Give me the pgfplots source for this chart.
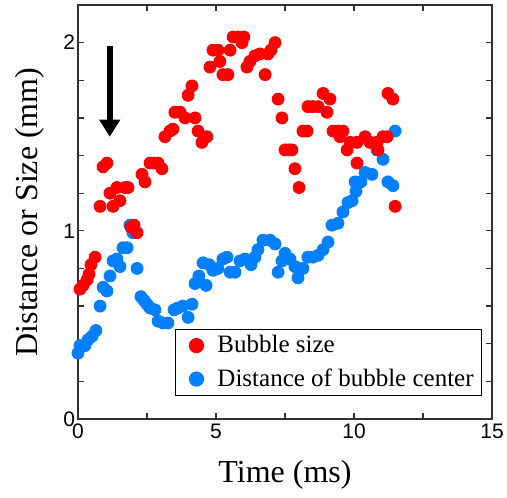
\documentclass[border=0pt]{standalone}
\usepackage{pgfplots}
\pgfplotsset{compat=1.18}
\usetikzlibrary{arrows.meta}
\usepackage{fontspec}
\setmainfont{Liberation Serif}
\newfontfamily\arial{Liberation Sans}
\definecolor{bred}{RGB}{255,0,0}
\definecolor{bblue}{RGB}{0,128,255}
\begin{document}
\begin{tikzpicture}
\useasboundingbox (-39pt,-39pt) rectangle (214.5pt,209.5pt);
\begin{axis}[
  at={(0,0)}, anchor=south west,
  scale only axis, width=207pt, height=207pt,
  xmin=0, xmax=15, ymin=0, ymax=2.2,
  xtick={0,5,10,15}, ytick={0,1,2},
  minor x tick num=1, minor y tick num=4,
  tick align=inside, major tick length=3pt, minor tick length=3pt,
  axis line style={line width=0.7pt, black!80},
  every tick/.style={line width=0.6pt, black!80},
  /pgf/number format/assume math mode=true,
  tick label style={font=\arial\fontsize{10.5}{12}\selectfont},
  xticklabel style={yshift=1pt},
  yticklabel style={xshift=2pt},
  xlabel={Time (ms)}, ylabel={Distance or Size (mm)},
  label style={font=\fontsize{16}{18}\selectfont},
  xlabel style={at={(axis description cs:0.5,-0.135)}, anchor=center},
  ylabel style={at={(axis description cs:-0.116,0.5)}, anchor=center},
  legend style={at={(0.234,0.0556)}, anchor=south west, draw=black,
    line width=0.6pt, font=\fontsize{12.5}{15}\selectfont,
    inner xsep=2pt, inner ysep=1pt, row sep=2.5pt},
  legend image code/.code={
    \path (0pt,0pt) (17pt,0pt);
    \draw[mark repeat=2, mark phase=2, #1, mark size=3.5pt]
      plot coordinates {(0pt,0pt)(8.5pt,0pt)(17pt,0pt)};},
  legend cell align=left, reverse legend,
  clip=false,
]
% distance of bubble center
\addplot[only marks, mark=*, mark size=3pt, draw=none, color=bblue, mark options={draw=none, fill=bblue}]
coordinates {
(0.00,0.35)(0.07,0.39)(0.25,0.39)(0.36,0.42)(0.51,0.44)(0.65,0.47)
(0.80,0.60)(0.91,0.70)(1.05,0.68)(1.16,0.76)(1.27,0.84)(1.41,0.85)
(1.52,0.81)(1.63,0.91)(1.78,0.91)(1.88,1.03)(1.99,0.99)(2.14,0.80)
(2.28,0.65)(2.39,0.63)(2.50,0.61)(2.61,0.59)(2.79,0.58)(2.90,0.52)
(3.08,0.51)(3.26,0.51)(3.48,0.58)(3.62,0.59)(3.80,0.60)(3.99,0.54)
(4.13,0.61)(4.24,0.72)(4.38,0.76)(4.53,0.83)(4.64,0.71)(4.75,0.82)
(4.89,0.79)(5.07,0.80)(5.25,0.85)(5.40,0.86)(5.51,0.78)(5.69,0.78)
(5.87,0.84)(6.05,0.85)(6.27,0.82)(6.41,0.86)(6.52,0.90)(6.70,0.95)
(6.96,0.95)(7.14,0.93)(7.25,0.78)(7.39,0.84)(7.50,0.88)(7.68,0.85)
(7.86,0.81)(7.97,0.75)(8.15,0.80)(8.33,0.86)(8.51,0.86)(8.70,0.87)
(8.88,0.90)(9.06,0.94)(9.20,1.03)(9.42,1.04)(9.60,1.10)(9.78,1.15)
(9.93,1.16)(10.07,1.21)(10.04,1.26)(10.25,1.26)(10.40,1.31)(10.65,1.30)
(10.83,1.43)(11.05,1.38)(11.23,1.26)(11.41,1.24)(11.49,1.53)
};
\addlegendentry{Distance of bubble center}
% bubble size
\addplot[only marks, mark=*, mark size=3pt, draw=none, color=bred, mark options={draw=none, fill=bred}]
coordinates {
(0.07,0.69)(0.18,0.71)(0.33,0.74)(0.40,0.77)(0.47,0.82)(0.62,0.86)
(0.80,1.13)(0.91,1.34)(1.05,1.36)(1.16,1.20)(1.27,1.13)(1.41,1.23)
(1.52,1.16)(1.70,1.23)(1.81,1.23)(1.92,1.02)(2.03,1.03)(2.14,0.99)
(2.32,1.30)(2.43,1.26)(2.61,1.36)(2.75,1.36)(2.90,1.36)(3.04,1.33)
(3.15,1.50)(3.33,1.53)(3.44,1.54)(3.51,1.63)(3.70,1.63)(3.88,1.60)
(4.24,1.60)(3.99,1.72)(4.13,1.77)(4.35,1.53)(4.49,1.47)(4.67,1.50)
(4.78,1.87)(4.89,1.96)(5.07,1.96)(5.14,1.90)(5.25,1.83)(5.43,1.83)
(5.51,1.96)(5.62,2.03)(5.80,2.03)(5.94,2.00)(6.01,2.03)(6.12,1.87)
(6.23,1.90)(6.41,1.93)(6.59,1.94)(6.78,1.83)(6.88,1.94)(6.99,1.96)
(7.14,2.00)(7.25,1.70)(7.39,1.60)(7.50,1.43)(7.64,1.43)(7.75,1.43)
(7.86,1.33)(8.01,1.23)(8.15,1.53)(8.30,1.53)(8.33,1.66)(8.51,1.66)
(8.70,1.66)(8.88,1.73)(9.13,1.70)(9.02,1.63)(9.24,1.53)(9.42,1.53)
(9.60,1.53)(9.49,1.50)(9.75,1.43)(9.86,1.47)(10.11,1.47)(10.40,1.50)
(10.58,1.47)(10.83,1.47)(10.87,1.43)(11.05,1.50)(11.20,1.50)(10.11,1.36)
(11.23,1.73)(11.41,1.70)(11.49,1.13)
};
\addlegendentry{Bubble size}
% arrow marking the onset
\draw[line width=3pt, -{Triangle[length=8.5pt, width=10pt]}] (axis cs:1.15,1.98) -- (axis cs:1.15,1.50);
\end{axis}
\end{tikzpicture}
\end{document}
